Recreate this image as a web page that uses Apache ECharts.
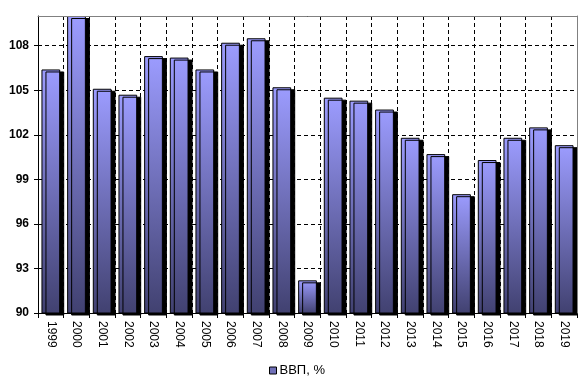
<!DOCTYPE html>
<html><head><meta charset="utf-8">
<script src="https://cdn.jsdelivr.net/npm/echarts@6/dist/echarts.min.js"></script>
<style>html,body{margin:0;padding:0;background:#fff}#c{width:588px;height:384px}</style>
</head><body><div id="c"></div>
<script>
var years = ['1999','2000','2001','2002','2003','2004','2005','2006','2007','2008','2009','2010','2011','2012','2013','2014','2015','2016','2017','2018','2019'];
var gdp = [106.4,110.0,105.1,104.7,107.3,107.2,106.4,108.2,108.5,105.2,92.2,104.5,104.3,103.7,101.8,100.7,98.0,100.3,101.8,102.5,101.3];
var seriesName = 'ВВП, %';
var yMin = 90, yMax = 110, yStep = 3;

var chart = echarts.init(document.getElementById('c'), null, {renderer:'canvas'});
var grid = {left:38, top:16, right:11, bottom:71};
chart.setOption({
  animation:false,
  grid: grid,
  legend: {
    bottom: 2, left: 264,
    itemWidth: 7, itemHeight: 7, icon: 'rect', itemGap: 4,
    textStyle: {fontFamily:'Liberation Sans, Arial', fontSize:13, color:'#000', padding:[0,0,0,-2]},
    data: [{name: seriesName, itemStyle:{color:'#7070b8', borderColor:'#000', borderWidth:1, shadowBlur:0, shadowOffsetX:0, shadowOffsetY:0}}]
  },
  xAxis: [{
    type:'category', data: years, boundaryGap:true,
    axisLine:{lineStyle:{color:'#000', width:1}},
    axisTick:{show:true, length:5, lineStyle:{color:'#000'}},
    axisLabel:{rotate:-90, margin:8, fontFamily:'Liberation Sans, Arial', fontSize:12, color:'#000', interval:0},
    splitLine:{show:true, lineStyle:{color:'#000', type:[4,3], width:1}}
  },{
    type:'category', position:'top', data: years, z:5,
    axisLine:{lineStyle:{color:'#808080', width:1}},
    axisTick:{show:false}, axisLabel:{show:false}, splitLine:{show:false}
  }],
  yAxis: [{
    type:'value', min:yMin, max:yMax, interval:yStep,
    axisLine:{show:true, lineStyle:{color:'#000', width:1}},
    axisTick:{show:true, length:4, lineStyle:{color:'#000'}},
    axisLabel:{showMaxLabel:false, margin:9, fontFamily:'Liberation Sans, Arial', fontSize:12, fontWeight:'bold', color:'#000'},
    splitLine:{show:true, lineStyle:{color:'#000', type:[4,3], width:1}}
  },{
    type:'value', position:'right', min:yMin, max:yMax, z:5,
    axisLine:{show:true, lineStyle:{color:'#808080', width:1}},
    axisTick:{show:false}, axisLabel:{show:false}, splitLine:{show:false}
  }],
  series: [{
    name: seriesName, type:'bar', data: gdp,
    barCategoryGap:'27%', z:3,
    itemStyle:{
      color: new echarts.graphic.LinearGradient(0,0,0,1,[{offset:0,color:'#9c9cff'},{offset:1,color:'#414170'}]),
      borderColor:'#000', borderWidth:1,
      shadowColor:'#000', shadowBlur:0, shadowOffsetX:4, shadowOffsetY:2
    }
  }]
});
</script></body></html>
